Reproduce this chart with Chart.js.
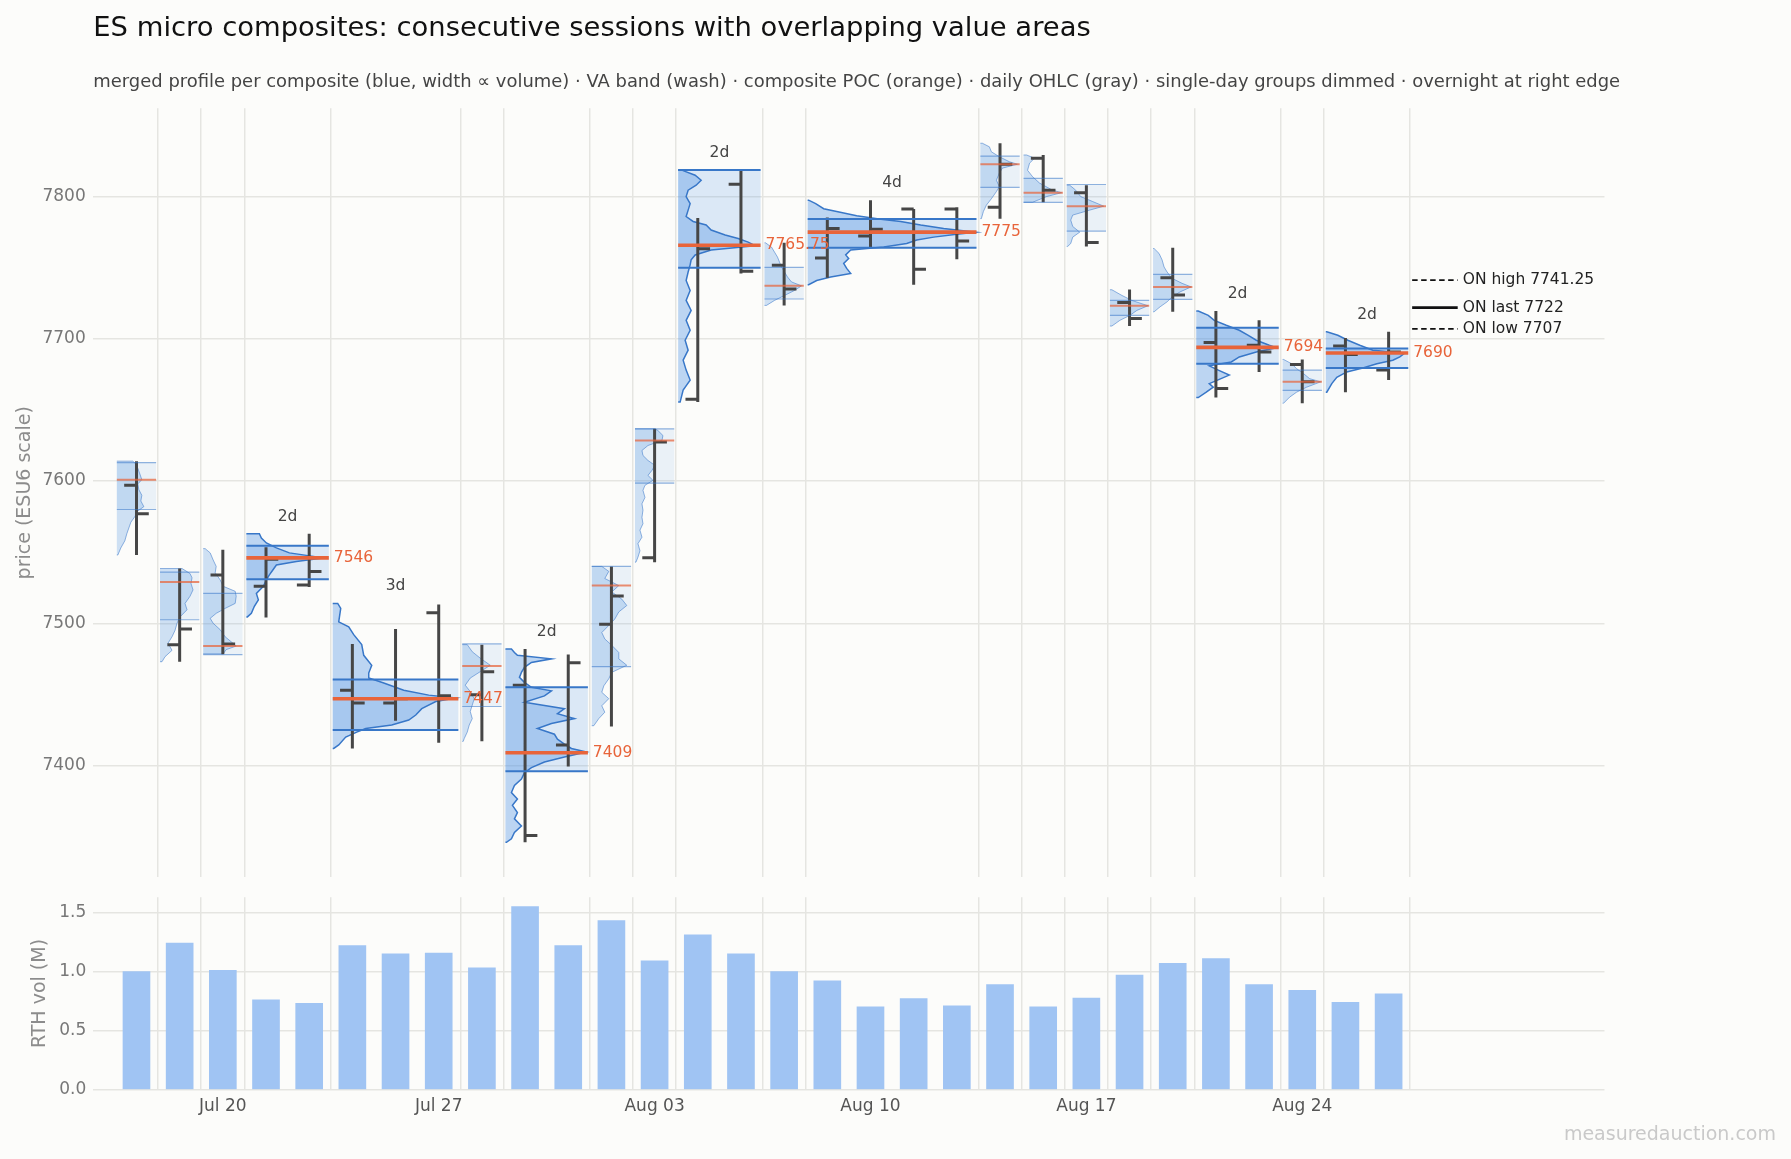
<!DOCTYPE html>
<html><head><meta charset="utf-8">
<script src="https://cdn.jsdelivr.net/npm/chart.js"></script>
<style>
html,body{margin:0;padding:0;background:#fcfcfa;}
#wrap{position:relative;width:1791px;height:1159px;overflow:hidden;background:#fcfcfa;}
#top{position:absolute;left:0;top:0;width:1791px;height:897px;}
#bot{position:absolute;left:0;top:880px;width:1791px;height:279px;}
#wm{position:absolute;right:15px;top:1122px;font:19px "DejaVu Sans",sans-serif;color:#c9c9c9;}
</style></head><body>
<div id="wrap">
<canvas id="top" width="1791" height="897"></canvas>
<canvas id="bot" width="1791" height="279"></canvas>
<div id="wm">measuredauction.com</div>
</div>
<script>
// ---------------- data ----------------
const DAYS = ['Jul 16','Jul 17','Jul 20','Jul 21','Jul 22','Jul 23','Jul 24','Jul 27','Jul 28','Jul 29','Jul 30','Jul 31','Aug 03','Aug 04','Aug 05','Aug 06','Aug 07','Aug 10','Aug 11','Aug 12','Aug 13','Aug 14','Aug 17','Aug 18','Aug 19','Aug 20','Aug 21','Aug 24','Aug 25','Aug 26'];
const OPEN  = [7597,7485,7534,7526,7527,7453,7444,7507.5,7449.75,7456.5,7414.5,7499.25,7546,7657.5,7808.75,7751.75,7756.75,7772.25,7791.25,7791.25,7792.5,7827,7802.75,7725.5,7743,7697.5,7695.5,7682,7695,7678];
const HIGH  = [7614,7538.5,7551.75,7553.5,7563,7485.5,7496,7513.25,7485,7482,7478,7540,7636.75,7785,7818.75,7767.5,7785.25,7797.5,7791.25,7792.5,7837.5,7829.25,7808,7734.75,7764,7719.5,7713,7685.5,7700.5,7705];
const LOW   = [7548,7473,7478.25,7504,7525.5,7412,7431.5,7416,7417,7346,7399.25,7427.5,7543,7655.5,7746,7723.5,7743,7764.25,7738,7756,7784.5,7796,7765,7709,7719,7658.75,7676.75,7654.75,7662.5,7671];
const CLOSE = [7577,7496,7485.5,7545,7536.5,7444,7447,7449,7466,7350.75,7472.25,7519.25,7627.5,7763.25,7747.5,7735,7777.5,7777,7749,7768.75,7822.75,7804.5,7767.75,7714.25,7730.75,7665,7690.75,7669.75,7689,7690.75];
const RTH_VOL = [1.00,1.24,1.01,0.76,0.73,1.22,1.15,1.155,1.03,1.55,1.22,1.43,1.09,1.31,1.15,1.00,0.92,0.70,0.77,0.71,0.89,0.70,0.775,0.97,1.07,1.11,0.89,0.84,0.74,0.81];

const TICK_DAYS = ['Jul 20','Jul 27','Aug 03','Aug 10','Aug 17','Aug 24'];
const PRICE_TICKS = [7400,7500,7600,7700,7800];
const VOL_TICKS = [0,0.5,1.0,1.5];

const TITLE = 'ES micro composites: consecutive sessions with overlapping value areas';
const SUBTITLE = 'merged profile per composite (blue, width \u221d volume) \u00b7 VA band (wash) \u00b7 composite POC (orange) \u00b7 daily OHLC (gray) \u00b7 single-day groups dimmed \u00b7 overnight at right edge';

// composites: first day index, number of sessions, POC, value area high / low
const COMP_START = [0,1,2,3,5,8,9,11,12,13,15,16,20,21,22,23,24,25,27,28];
const COMP_DAYS  = [1,1,1,2,3,1,2,1,1,2,1,4,1,1,1,1,1,2,1,2];
const COMP_POC   = [7601,7529,7484,7546,7447,7470,7409,7526.5,7628.5,7765.75,7737.25,7775,7822.75,7802.75,7793.25,7723.25,7736.5,7694,7669.75,7690];
const COMP_VAH   = [7613,7536,7521,7554.5,7460.5,7485.5,7455,7540,7636.75,7818.75,7750.25,7784.25,7828.5,7812.75,7808.5,7727,7745.25,7707.75,7678,7693.25];
const COMP_VAL   = [7580,7502.5,7478,7531,7425,7441.5,7396,7469.5,7598.5,7750,7728,7764,7806.5,7796,7775.75,7716.5,7727.75,7682.5,7663.75,7679.5];

// merged volume profiles: [price, relative volume]
const PROF_0 = [[7548,1],[7553,4],[7558,8],[7563,10],[7567,12],[7571,14],[7575,18],[7579,21],[7582,27],[7586,24],[7590,25],[7594,22],[7598,21],[7601,25],[7605,23],[7609,21],[7612,19],[7614,16]];
const PROF_1 = [[7473,2],[7476.5,5],[7481,12],[7486,8],[7490.5,12],[7495,15],[7500,17],[7504.5,20],[7509.5,27],[7514,25],[7519,30],[7523.5,33],[7528,31],[7532,32],[7535,30],[7538.5,22]];
const PROF_2 = [[7478.5,20],[7481.5,23],[7484,33],[7487,28],[7490.5,22],[7495.5,17],[7500,10],[7503.5,7],[7507,13],[7510.5,22],[7514,32],[7519,33],[7522.5,32],[7526,20],[7530.5,17],[7535.5,12],[7540,13],[7544.5,10],[7549.5,7],[7552.5,2]];
const PROF_3 = [[7504.5,1],[7507,5],[7512,8],[7516.5,12],[7521,10],[7526,17],[7530.5,20],[7534,23],[7538,27],[7541,30],[7543.5,50],[7546,77],[7549.5,43],[7553,30],[7556.5,20],[7560,15],[7563,13]];
const PROF_4 = [[7412,1],[7414.5,6],[7420,13],[7423.5,24],[7426,33],[7428.5,59],[7432,76],[7435.5,83],[7440,89],[7445,103],[7447.5,123],[7449.5,96],[7453,71],[7458,51],[7461.5,36],[7465,36],[7470.5,39],[7477.5,31],[7485,29],[7492,21],[7497.5,16],[7501,6],[7510.5,8],[7514,5]];
const PROF_5 = [[7417,1],[7419,2],[7423.5,5],[7428.5,7],[7433,10],[7438,8],[7442.5,10],[7447,12],[7452,8],[7456.5,3],[7461.5,8],[7466,18],[7470.5,28],[7475.5,18],[7480,10],[7485,5]];
const PROF_6 = [[7346,1],[7348.5,6],[7353,9],[7357.5,16],[7362.5,9],[7367,12],[7372,7],[7376.5,12],[7381,6],[7386,9],[7390.5,16],[7395,19],[7398.5,26],[7402.5,39],[7406,59],[7409.5,81],[7412,66],[7415,59],[7418.5,52],[7422,49],[7426,32],[7429.5,46],[7433,69],[7436.5,52],[7440,59],[7444.5,19],[7449,39],[7452.5,46],[7455,26],[7458.5,19],[7462,14],[7465.5,16],[7469,19],[7472.5,26],[7475,46],[7477.5,12],[7479.5,9],[7482,6]];
const PROF_7 = [[7428,2],[7433,7],[7437.5,13],[7442,10],[7447,17],[7451.5,10],[7456,12],[7461,17],[7465.5,20],[7470.5,35],[7475,27],[7479.5,27],[7484.5,20],[7489,13],[7493.5,10],[7498.5,17],[7503,23],[7508,27],[7512.5,35],[7517,30],[7522,20],[7526.5,27],[7531.5,13],[7536.5,17],[7540,10]];
const PROF_8 = [[7543,1],[7546.5,3],[7551,5],[7556,3],[7560.5,7],[7565.5,5],[7570,8],[7574.5,7],[7579.5,8],[7584,7],[7588.5,10],[7593.5,8],[7597,10],[7600.5,18],[7604,13],[7607.5,17],[7611,20],[7614.5,13],[7618,8],[7621.5,7],[7625,13],[7628.5,27],[7632,28],[7635.5,23],[7636.75,20]];
const PROF_9 = [[7655.5,2],[7664,5],[7671,12],[7678,8],[7685,5],[7692,10],[7699,7],[7706,12],[7713,8],[7720,13],[7727,8],[7734,12],[7741,8],[7747,10],[7752,12],[7755.5,13],[7759,17],[7762.5,33],[7765.5,77],[7768,70],[7770.5,60],[7773,47],[7776.5,33],[7780,28],[7782.5,15],[7786,8],[7790.5,10],[7795,12],[7800,8],[7804.5,10],[7808,18],[7811.5,23],[7815,17],[7818.75,3]];
const PROF_10 = [[7723.5,2],[7727,10],[7730.5,20],[7734,30],[7737.25,37],[7740,27],[7743.5,23],[7747,20],[7750.5,17],[7754,15],[7757.5,13],[7761,10],[7764.5,7],[7767.5,1]];
const PROF_11 = [[7738,1],[7741,9],[7743.5,23],[7746,43],[7749.5,39],[7753,36],[7756.5,41],[7759,38],[7762.5,43],[7764.5,76],[7767,99],[7769.5,109],[7771.5,126],[7773.5,149],[7775,168],[7777.5,136],[7780,113],[7782.5,93],[7784,73],[7786.5,49],[7789.5,29],[7791.5,16],[7795,8],[7797.5,1]];
const PROF_12 = [[7784.5,1],[7789.5,3],[7794,6],[7798.5,11],[7803.5,16],[7807,19],[7811.5,16],[7816.5,19],[7820,22],[7822.75,37],[7824.5,29],[7828,19],[7831.5,11],[7835,9],[7837.5,2]];
const PROF_13 = [[7796,9],[7800,23],[7802.75,38],[7804.5,29],[7809.5,16],[7814,9],[7818.5,4],[7823.5,6],[7827,11],[7829.25,3]];
const PROF_14 = [[7765,1],[7767,4],[7771.5,6],[7775,13],[7779,6],[7783.5,4],[7787,6],[7790.5,23],[7793.25,37],[7796.5,26],[7800,14],[7804.5,9],[7808,3]];
const PROF_15 = [[7709,2],[7713,10],[7716.5,20],[7720,27],[7723.25,38],[7727,22],[7730.5,12],[7734.5,2]];
const PROF_16 = [[7719,1],[7722.5,7],[7726,14],[7729.5,19],[7733,27],[7736.5,38],[7739,29],[7742.5,19],[7747,14],[7750.5,11],[7755.5,9],[7760,6],[7763.5,1]];
const PROF_17 = [[7658.75,2],[7662.5,10],[7666,17],[7668.5,13],[7671.5,23],[7674.5,33],[7678,22],[7681,13],[7683.75,35],[7687.25,43],[7690.75,60],[7693.75,80],[7695.5,73],[7699,60],[7702.5,52],[7706,43],[7709.5,30],[7713,18],[7716.5,12],[7719.5,2]];
const PROF_18 = [[7654.75,1],[7659,7],[7662.5,14],[7666,24],[7669.75,38],[7672,27],[7675.5,21],[7679,14],[7682.5,9],[7685.5,1]];
const PROF_19 = [[7662.5,1],[7668.5,6],[7673,11],[7676.75,21],[7679.5,37],[7682.5,51],[7685,67],[7687.25,74],[7690,79],[7692,47],[7695.5,34],[7699,22],[7702.5,12],[7705,1]];
const PROFILES = [PROF_0,PROF_1,PROF_2,PROF_3,PROF_4,PROF_5,PROF_6,PROF_7,PROF_8,PROF_9,PROF_10,PROF_11,PROF_12,PROF_13,PROF_14,PROF_15,PROF_16,PROF_17,PROF_18,PROF_19];

const ON_HIGH = 7741.25, ON_LAST = 7722, ON_LOW = 7707;

// ---------------- styling constants ----------------
const FONT = '"DejaVu Sans", sans-serif';
Chart.defaults.font.family = FONT;
const GRID = '#e5e5e1';
const ORANGE = '#e8643a';
const BLUE = '#3877c8';
const OHLC_COLOR = '#464646';
const X_MIN = -1, X_MAX = 34;
const INSET = 0.045;           // gap between composite box and boundary (days)
const PROFILE_SCALE = 1/43.16; // days of width per unit of relative volume
const TICK_LEN = 0.285;        // OHLC open/close tick length (days)
const ON_LEN = 1.1;

const allLow = Math.min(...LOW, ...PROFILES.map(p=>p[0][0]));
const allHigh = Math.max(...HIGH, ...PROFILES.map(p=>p[p.length-1][0]));
const Y_MIN = allLow - 0.05*(allHigh-allLow);
const Y_MAX = allHigh + 0.05*(allHigh-allLow);
const VOL_MAX = Math.max(...RTH_VOL)*1.05;

const cx0 = c => COMP_START[c] - 0.5 + INSET;
const cx1 = c => COMP_START[c] + COMP_DAYS[c] - 0.5 - INSET;
const GAP = x => ({x, y: null});
const multi = COMP_START.map((s,c)=>c).filter(c=>COMP_DAYS[c]>1);
const single = COMP_START.map((s,c)=>c).filter(c=>COMP_DAYS[c]===1);
const lastIdx = DAYS.length - 1;

// composite boundaries for vertical grid lines
const BOUNDS = COMP_START.slice(1).map(s=>s-0.5).concat([COMP_START[COMP_START.length-1]+COMP_DAYS[COMP_DAYS.length-1]-0.5]);

function washPts(ids){
  const pts=[];
  ids.forEach(c=>{const a=cx0(c), b=cx1(c);
    pts.push({x:a,y:COMP_VAL[c]},{x:b,y:COMP_VAL[c]},{x:b,y:COMP_VAH[c]},{x:a,y:COMP_VAH[c]},GAP(a));});
  return pts;
}
function hLines(ids, key){
  const pts=[];
  ids.forEach(c=>{const a=cx0(c), b=cx1(c);
    key.forEach(arr=>{pts.push({x:a,y:arr[c]},{x:b,y:arr[c]},GAP(b));});});
  return pts;
}
const base = {pointRadius:0, tension:0, spanGaps:false};
const datasets = [];
datasets.push(Object.assign({}, base, {data:washPts(multi), fill:'shape', backgroundColor:'rgba(74,144,226,0.18)', borderWidth:0, borderColor:'transparent', order:50}));
datasets.push(Object.assign({}, base, {data:washPts(single), fill:'shape', backgroundColor:'rgba(74,144,226,0.10)', borderWidth:0, borderColor:'transparent', order:50}));
PROFILES.forEach((prof,c)=>{
  const a = cx0(c);
  const pts=[{x:a,y:prof[0][0]}];
  prof.forEach(([p,v])=>pts.push({x:a+v*PROFILE_SCALE,y:p}));
  pts.push({x:a,y:prof[prof.length-1][0]});
  const isMulti = COMP_DAYS[c]>1;
  datasets.push(Object.assign({}, base, {data:pts, fill:'shape',
    backgroundColor: isMulti ? 'rgba(74,144,226,0.36)' : 'rgba(74,144,226,0.26)',
    borderColor: isMulti ? BLUE : 'rgba(56,119,200,0.55)',
    borderWidth: isMulti ? 1.5 : 1, order:40}));
});
// daily OHLC
const ohlc=[];
DAYS.forEach((d,i)=>{
  ohlc.push({x:i,y:LOW[i]},{x:i,y:HIGH[i]},GAP(i));
  ohlc.push({x:i-TICK_LEN,y:OPEN[i]},{x:i,y:OPEN[i]},GAP(i));
  ohlc.push({x:i,y:CLOSE[i]},{x:i+TICK_LEN,y:CLOSE[i]},GAP(i));
});
datasets.push(Object.assign({}, base, {data:ohlc, borderColor:OHLC_COLOR, borderWidth:3, fill:false, order:35}));
// value area edges
datasets.push(Object.assign({}, base, {data:hLines(single,[COMP_VAH,COMP_VAL]), borderColor:'rgba(56,119,200,0.55)', borderWidth:1.2, fill:false, order:30}));
datasets.push(Object.assign({}, base, {data:hLines(multi,[COMP_VAH,COMP_VAL]), borderColor:BLUE, borderWidth:2, fill:false, order:30}));
// POC
datasets.push(Object.assign({}, base, {data:hLines(single,[COMP_POC]), borderColor:'rgba(232,100,58,0.72)', borderWidth:2, fill:false, order:20}));
datasets.push(Object.assign({}, base, {data:hLines(multi,[COMP_POC]), borderColor:ORANGE, borderWidth:3.6, fill:false, order:20}));
// overnight levels
const onX0 = lastIdx + 0.5 + INSET, onX1 = lastIdx + 0.5 + ON_LEN;
datasets.push(Object.assign({}, base, {data:[{x:onX0,y:ON_HIGH},{x:onX1,y:ON_HIGH}], borderColor:'#111', borderWidth:1.6, borderDash:[5.5,3.5], fill:false, order:10}));
datasets.push(Object.assign({}, base, {data:[{x:onX0,y:ON_LAST},{x:onX1,y:ON_LAST}], borderColor:'#111', borderWidth:2.8, fill:false, order:10}));
datasets.push(Object.assign({}, base, {data:[{x:onX0,y:ON_LOW},{x:onX1,y:ON_LOW}], borderColor:'#111', borderWidth:1.6, borderDash:[5.5,3.5], fill:false, order:10}));

const fmtPoc = p => Number.isInteger(p) ? String(p) : p.toFixed(2);
const textPlugin = {
  id:'annot',
  afterDatasetsDraw(chart){
    const {ctx, scales:{x, y}} = chart;
    ctx.save();
    ctx.font = '15.5px ' + FONT;
    ctx.textBaseline = 'middle';
    multi.forEach(c=>{
      const prof = PROFILES[c];
      const hi = prof[prof.length-1][0];
      ctx.fillStyle = '#444'; ctx.textAlign = 'center';
      ctx.fillText(COMP_DAYS[c]+'d', x.getPixelForValue(COMP_START[c]+(COMP_DAYS[c]-1)/2), y.getPixelForValue(hi)-17);
      ctx.fillStyle = ORANGE; ctx.textAlign = 'left';
      ctx.fillText(fmtPoc(COMP_POC[c]), x.getPixelForValue(COMP_START[c]+COMP_DAYS[c]-0.5)+3, y.getPixelForValue(COMP_POC[c]));
    });
    ctx.fillStyle = '#222'; ctx.textAlign = 'left';
    const tx = x.getPixelForValue(onX1)+5;
    ctx.fillText('ON high '+ON_HIGH, tx, y.getPixelForValue(ON_HIGH));
    ctx.fillText('ON last '+ON_LAST, tx, y.getPixelForValue(ON_LAST));
    ctx.fillText('ON low '+ON_LOW, tx, y.getPixelForValue(ON_LOW));
    ctx.restore();
  }
};
const titlePlugin = {
  id:'titles',
  afterDraw(chart){
    const {ctx, chartArea} = chart;
    ctx.save();
    ctx.textAlign = 'left'; ctx.textBaseline = 'middle';
    ctx.fillStyle = '#111'; ctx.font = '27.4px ' + FONT;
    ctx.fillText(TITLE, chartArea.left, 28.7);
    ctx.fillStyle = '#444'; ctx.font = '17.95px ' + FONT;
    ctx.fillText(SUBTITLE, chartArea.left, 82.4);
    ctx.restore();
  }
};

new Chart(document.getElementById('top'), {
  type:'line',
  data:{datasets},
  options:{
    responsive:false, animation:false, events:[],
    layout:{padding:{left:0,right:186.5,top:108.3,bottom:0}},
    plugins:{legend:{display:false}, tooltip:{enabled:false}, title:{display:false}},
    scales:{
      x:{type:'linear', min:X_MIN, max:X_MAX,
        afterBuildTicks:s=>{s.ticks = BOUNDS.map(v=>({value:v}));},
        ticks:{display:false}, grid:{color:GRID, lineWidth:1.5, drawTicks:false}, border:{display:false},
        afterFit:s=>{s.height = 19.7;}},
      y:{type:'linear', min:Y_MIN, max:Y_MAX,
        afterBuildTicks:s=>{s.ticks = PRICE_TICKS.map(v=>({value:v}));},
        ticks:{color:'#777', font:{size:17}, padding:7.6, callback:v=>String(v)},
        grid:{color:GRID, lineWidth:1.5, drawTicks:false}, border:{display:false},
        title:{display:true, text:'price (ESU6 scale)', color:'#8c8c8c', font:{size:19}, padding:{top:13.6, bottom:0}},
        afterFit:s=>{s.width = 93.3;}}
    }
  },
  plugins:[textPlugin, titlePlugin]
});

const TICK_POS = TICK_DAYS.map(d=>DAYS.indexOf(d));
const labelFor = v => { const k = TICK_POS.indexOf(v); return k>=0 ? TICK_DAYS[k] : ''; };
new Chart(document.getElementById('bot'), {
  type:'bar',
  data:{datasets:[{data:RTH_VOL.map((v,i)=>({x:i,y:v})), backgroundColor:'#a0c4f3', borderWidth:0, barThickness:27}]},
  options:{
    responsive:false, animation:false, events:[],
    layout:{padding:{left:0,right:186.5,top:17.3,bottom:0}},
    plugins:{legend:{display:false}, tooltip:{enabled:false}},
    scales:{
      x:{type:'linear', min:X_MIN, max:X_MAX, offset:false,
        afterBuildTicks:s=>{s.ticks = BOUNDS.concat(TICK_POS).sort((a,b)=>a-b).map(v=>({value:v}));},
        ticks:{autoSkip:false, maxRotation:0, color:'#555', font:{size:17}, padding:7, callback:v=>labelFor(v)},
        grid:{offset:false, lineWidth:1.5, drawTicks:false, color:ctx=> (ctx.tick && TICK_POS.indexOf(ctx.tick.value)>=0) ? 'rgba(0,0,0,0)' : GRID},
        border:{display:false},
        afterFit:s=>{s.height = 69.3;}},
      y:{type:'linear', min:0, max:VOL_MAX,
        afterBuildTicks:s=>{s.ticks = VOL_TICKS.map(v=>({value:v}));},
        ticks:{color:'#777', font:{size:17}, padding:7, callback:v=>v.toFixed(1)},
        grid:{color:GRID, lineWidth:1.5, drawTicks:false}, border:{display:false},
        title:{display:true, text:'RTH vol (M)', color:'#8c8c8c', font:{size:19}, padding:{top:28.6, bottom:0}},
        afterFit:s=>{s.width = 93.3;}}
    }
  }
});
</script>
</body></html>
